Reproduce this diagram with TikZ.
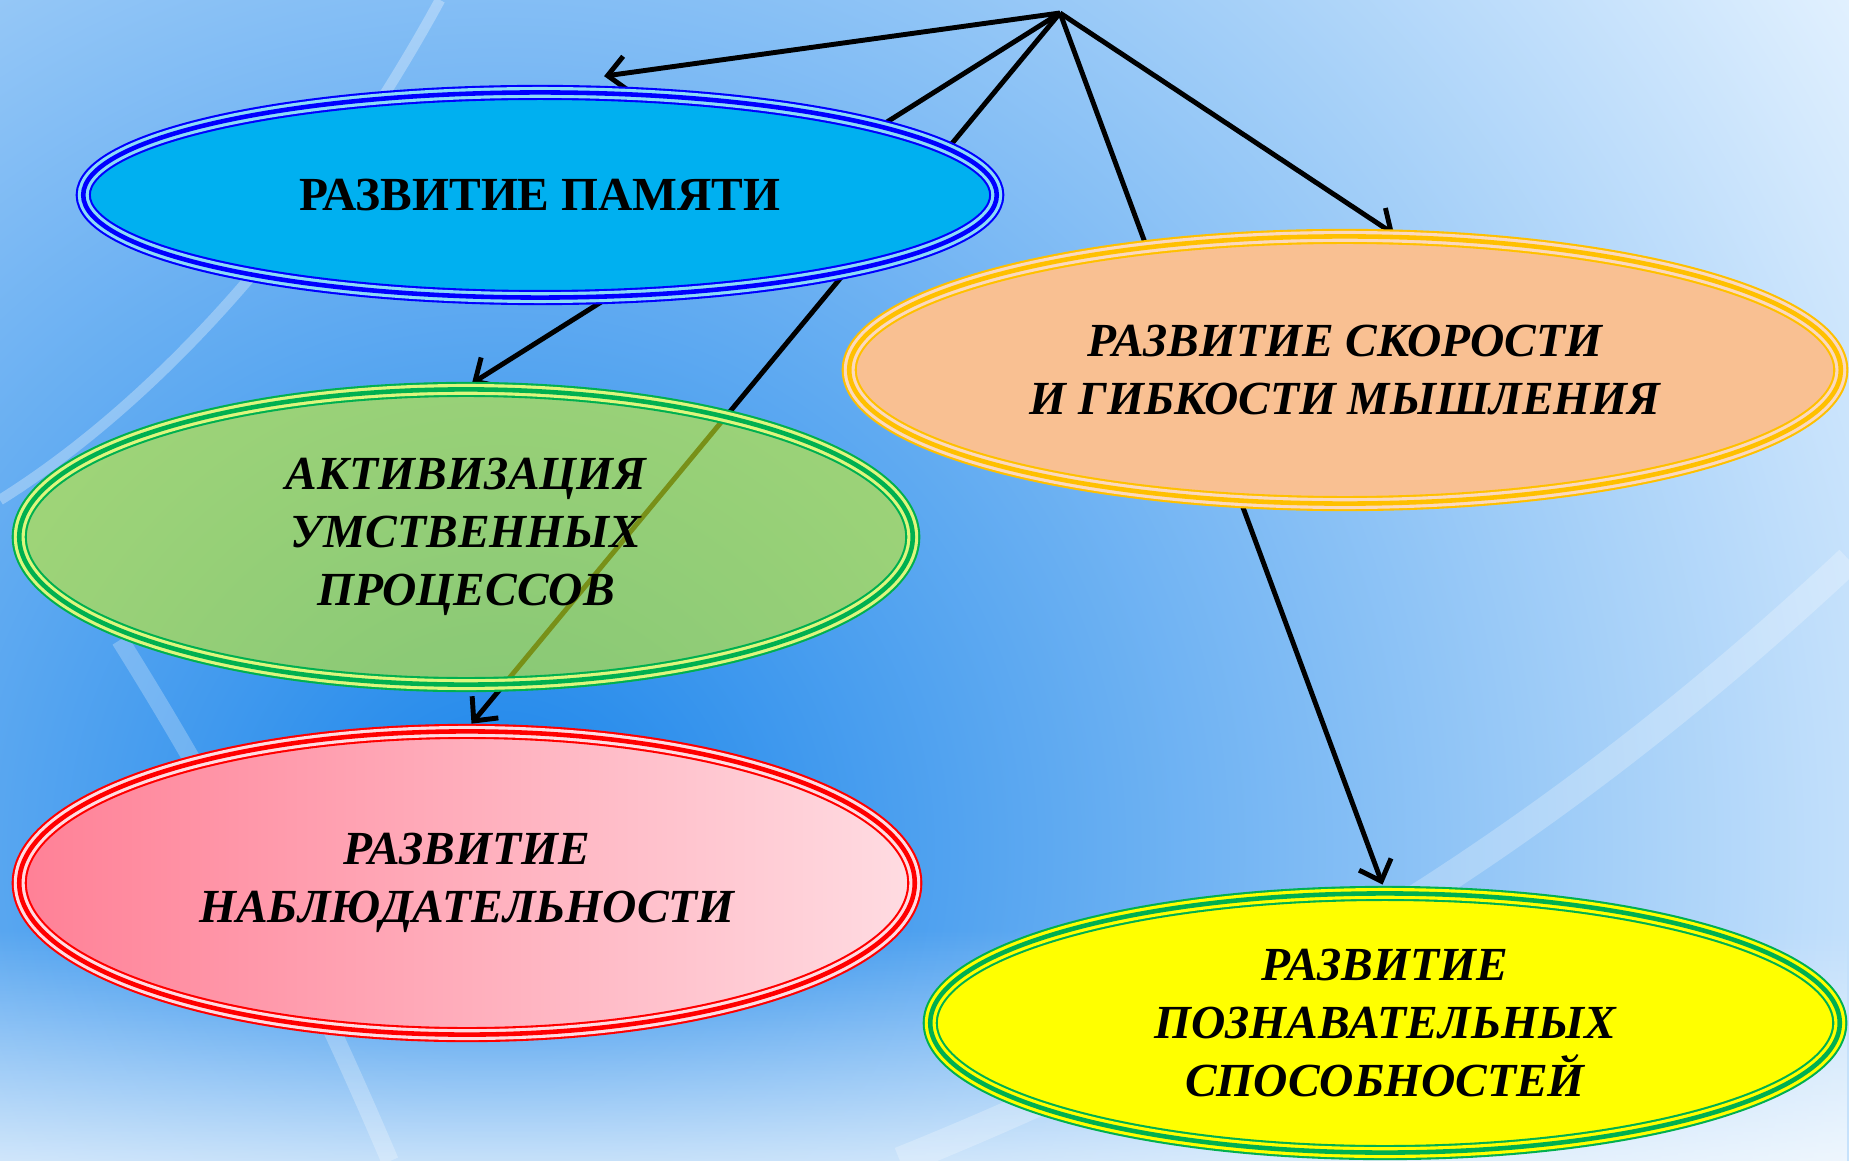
\documentclass[tikz,border=0pt]{standalone}
\usepackage{fontspec}
\setmainfont{Liberation Serif}
\usetikzlibrary{arrows.meta}
\usetikzlibrary{shapes.geometric}
\usetikzlibrary{fadings}

\definecolor{bgdeep}{RGB}{25,132,234}
\definecolor{bglight}{RGB}{232,244,255}
\definecolor{pamfill}{RGB}{0,176,240}
\definecolor{pamline}{RGB}{0,0,255}
\definecolor{aktfill}{RGB}{200,240,40}
\definecolor{greenline}{RGB}{0,176,80}
\definecolor{nableft}{RGB}{255,128,150}
\definecolor{nabright}{RGB}{255,220,226}
\definecolor{nabline}{RGB}{255,0,0}
\definecolor{skofill}{RGB}{249,192,146}
\definecolor{skoline}{RGB}{255,192,0}
\definecolor{pozfill}{RGB}{255,255,0}

\tikzfading[name=fadeup, top color=transparent!100, bottom color=transparent!0]

\pgfdeclarelayer{back}
\pgfdeclarelayer{lines}
\pgfsetlayers{back,lines,main}

\tikzset{
  oval/.style={ellipse, inner sep=0pt, align=center,
    font=\bfseries\itshape\fontsize{13.5}{16.5}\selectfont},
  rim/.style 2 args={preaction={draw=#1, double=#2, line width=0.6pt, double distance=3.1pt},
    draw=#1, line width=1.3pt},
}

\begin{document}
\begin{tikzpicture}[x=0.01cm, y=-0.01cm, >={Straight Barb[length=1.8mm,width=3.4mm]}]
  \useasboundingbox (0,0) rectangle (1849,1161);

  % background
  \begin{pgfonlayer}{back}
    \clip (0,0) rectangle (1849,1161);
    \fill[bglight] (0,0) rectangle (1849,1161);
    \shade[inner color=bgdeep, outer color=bglight] (500,850) circle [radius=1650];
    \fill[white, opacity=0.7, path fading=fadeup] (0,930) rectangle (1849,1161);
    \draw[white, opacity=0.3, line width=3pt] (440,0) .. controls (320,220) and (160,400) .. (0,500);
    \draw[white, opacity=0.25, line width=5pt] (120,640) .. controls (220,800) and (300,950) .. (390,1161);
    \draw[white, opacity=0.25, line width=8pt] (1849,560) .. controls (1550,840) and (1250,1020) .. (900,1161);
  \end{pgfonlayer}

  \coordinate (top) at (1060,13);

  \node[oval, minimum width=9.13cm, minimum height=2.05cm, preaction={fill=pamfill},
    rim={pamline}{pamfill!45!white}, font=\bfseries\fontsize{13.5}{16.5}\selectfont]
    (pam) at (540,195) {РАЗВИТИЕ ПАМЯТИ};
  \node[oval, minimum width=8.93cm, minimum height=2.95cm, preaction={fill=aktfill, fill opacity=0.6},
    rim={greenline}{aktfill!60!white}]
    (akt) at (466,537) {АКТИВИЗАЦИЯ\\ УМСТВЕННЫХ\\ ПРОЦЕССОВ};
  \node[oval, minimum width=8.95cm, minimum height=3.03cm, preaction={left color=nableft, right color=nabright},
    rim={nabline}{nabright}]
    (nab) at (467,883) {РАЗВИТИЕ\\ НАБЛЮДАТЕЛЬНОСТИ};
  \node[oval, minimum width=9.91cm, minimum height=2.67cm, preaction={fill=skofill},
    rim={skoline}{skofill!60!white}]
    (sko) at (1345,370) {РАЗВИТИЕ СКОРОСТИ\\ И ГИБКОСТИ МЫШЛЕНИЯ};
  \node[oval, minimum width=9.09cm, minimum height=2.59cm, preaction={fill=pozfill},
    rim={greenline}{pozfill}]
    (poz) at (1385,1023) {РАЗВИТИЕ\\ ПОЗНАВАТЕЛЬНЫХ\\ СПОСОБНОСТЕЙ};

  \begin{pgfonlayer}{lines}
    \draw[->, line width=1.4pt] (top) -- ([xshift=0.64cm,yshift=0.14cm]pam.north);
    \draw[->, line width=1.4pt, shorten >=2pt] (top) -- (akt.north);
    \draw[->, line width=1.4pt, shorten >=2pt] (top) -- (nab.north);
    \draw[->, line width=1.4pt] (top) -- ([xshift=0.49cm]sko.north);
    \draw[->, line width=1.4pt, shorten >=2pt] (top) -- (poz.north);
  \end{pgfonlayer}
\end{tikzpicture}
\end{document}
